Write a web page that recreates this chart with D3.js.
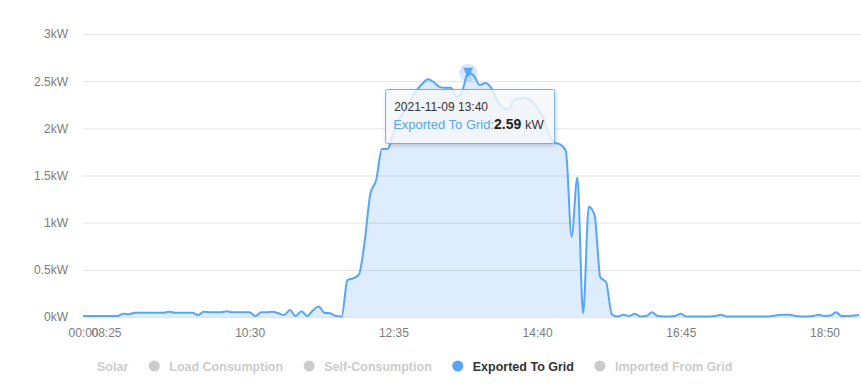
<!DOCTYPE html>
<html>
<head>
<meta charset="utf-8">
<script src="https://cdn.jsdelivr.net/npm/d3@7"></script>
<style>
	body { margin: 0; background: #fff; }
	svg { display: block; font-family: 'Liberation Sans', Arial, sans-serif; }
</style>
</head>
<body>
<svg id="chart" width="861" height="388"></svg>
<script>
// category axis: a midnight reading, then 5 minute steps through the day
const firstTime = '00:00'
const dayStart = '08:10'
const dayEnd = '19:20'
const xTickLabels = ['00:00', '08:25', '10:30', '12:35', '14:40', '16:45', '18:50']
const yTicks = [0, 0.5, 1, 1.5, 2, 2.5, 3]

// Exported To Grid, kW
const exported = [
	0.01, 0.01, 0.01, 0.01, 0.01, 0.01, 0.01, 0.035, 0.03, 0.045,
	0.045, 0.045, 0.045, 0.045, 0.045, 0.055, 0.045, 0.045, 0.045, 0.045,
	0.02, 0.055, 0.05, 0.05, 0.05, 0.06, 0.05, 0.05, 0.05, 0.05,
	0.01, 0.05, 0.05, 0.055, 0.04, 0.02, 0.075, 0.01, 0.06, 0.01,
	0.07, 0.11, 0.045, 0.04, 0.01, 0.005, 0.39, 0.41, 0.45, 0.8,
	1.31, 1.45, 1.78, 1.78, 1.95, 2.1, 2.2, 2.3, 2.4, 2.47,
	2.52, 2.49, 2.44, 2.43, 2.43, 2.33, 2.4, 2.59, 2.56, 2.46,
	2.48, 2.43, 2.3, 2.22, 2.2, 2.3, 2.32, 2.32, 2.29, 2.22,
	2.12, 1.95, 1.85, 1.83, 1.76, 0.85, 1.48, 0.04, 1.17, 1.08,
	0.42, 0.37, 0.03, 0.005, 0.025, 0.01, 0.035, 0.005, 0.01, 0.05,
	0.01, 0.005, 0.005, 0.01, 0.035, 0.005, 0.005, 0.005, 0.005, 0.005,
	0.01, 0.025, 0.005, 0.005, 0.005, 0.005, 0.005, 0.005, 0.005, 0.005,
	0.01, 0.02, 0.025, 0.025, 0.01, 0.005, 0.005, 0.01, 0.025, 0.01,
	0.015, 0.05, 0.01, 0.01, 0.015, 0.02
]

const legendItems = ['Solar', 'Load Consumption', 'Self-Consumption', 'Exported To Grid', 'Imported From Grid']
const activeSeries = 'Exported To Grid'
const tooltipDate = '2021-11-09'
const tooltipIndex = 67

const blue = '#58a6f5'
const plot = { left: 83, right: 859, top: 34, bottom: 317, gridRight: 861 }

const parseTime = d3.timeParse('%H:%M')
const formatTime = d3.timeFormat('%H:%M')
const times = [firstTime].concat(
	d3.timeMinute.every(5).range(parseTime(dayStart), d3.timeMinute.offset(parseTime(dayEnd), 1)).map(formatTime)
)
const data = times.map((t, i) => ({ time: t, value: exported[i] }))

const svg = d3.select('#chart')

const x = d3.scalePoint().domain(times).range([plot.left, plot.right])
const y = d3.scaleLinear().domain([0, 3]).range([plot.bottom, plot.top])

// grid
svg.append('g').selectAll('line').data(yTicks)
	.enter().append('line')
	.attr('x1', plot.left).attr('x2', plot.gridRight)
	.attr('y1', d => y(d) + 0.5).attr('y2', d => y(d) + 0.5)
	.style('stroke', '#e3e3e3').style('stroke-width', 1)

const yAxis = svg.append('g')
	.attr('transform', `translate(${plot.left}, 0)`)
	.call(d3.axisLeft(y).tickValues(yTicks).tickFormat(d => d + 'kW').tickSize(0).tickPadding(15))
yAxis.select('.domain').remove()
yAxis.selectAll('text').style('font-size', '12px').style('fill', '#7c7c7c').style('font-family', 'inherit')

const xAxis = svg.append('g')
	.attr('transform', `translate(0, ${plot.bottom})`)
	.call(d3.axisBottom(x).tickValues(xTickLabels).tickSize(0).tickPadding(11))
xAxis.select('.domain').remove()
xAxis.selectAll('text').style('font-size', '12px').style('fill', '#7c7c7c').style('font-family', 'inherit')

// series
const area = d3.area().curve(d3.curveMonotoneX)
	.x(d => x(d.time)).y0(y(0)).y1(d => y(d.value))
const line = d3.line().curve(d3.curveMonotoneX)
	.x(d => x(d.time)).y(d => y(d.value))

svg.append('path').datum(data)
	.attr('d', area)
	.style('fill', blue).style('fill-opacity', 0.2)

svg.append('path').datum(data)
	.attr('d', line)
	.style('fill', 'none').style('stroke', blue).style('stroke-width', 2).style('stroke-linejoin', 'round')

// hovered point marker
const hot = data[tooltipIndex]
const hx = x(hot.time)
const hy = y(hot.value)

svg.append('circle')
	.attr('cx', hx).attr('cy', hy).attr('r', 9)
	.style('fill', blue).style('fill-opacity', 0.25)
svg.append('path')
	.attr('d', `M${hx - 5},${hy - 5}L${hx + 5},${hy - 5}L${hx},${hy + 5}Z`)
	.style('fill', blue)

// tooltip
const defs = svg.append('defs')
const shadow = defs.append('filter').attr('id', 'shadow')
	.attr('x', '-10%').attr('y', '-20%').attr('width', '130%').attr('height', '150%')
shadow.append('feDropShadow').attr('dx', 1).attr('dy', 2).attr('stdDeviation', 2)
	.attr('flood-color', '#000').attr('flood-opacity', 0.2)

const tip = svg.append('g').attr('transform', `translate(${hx - 83}, 89)`)
tip.append('rect')
	.attr('x', 0.5).attr('y', 0.5).attr('width', 169).attr('height', 54).attr('rx', 2)
	.attr('filter', 'url(#shadow)')
	.style('fill', 'rgba(250,251,253,0.8)').style('stroke', '#6aaef5').style('stroke-width', 1)
tip.append('text')
	.attr('x', 9).attr('y', 22)
	.style('font-size', '12px').style('fill', '#333')
	.text(`${tooltipDate} ${hot.time}`)
const tipLine = tip.append('text').attr('x', 8).attr('y', 40).style('font-size', '13px')
tipLine.append('tspan').style('fill', blue).text(`${activeSeries}:`)
tipLine.append('tspan').style('fill', '#222').style('font-weight', 'bold').style('font-size', '14px').text(hot.value.toFixed(2))
tipLine.append('tspan').style('fill', '#333').text(' kW')

// legend
const legend = svg.append('g').attr('transform', 'translate(97, 366)')
let cursor = 0
legendItems.forEach((name, i) => {
	const on = name === activeSeries
	if (i > 0) {
		legend.append('circle')
			.attr('cx', cursor).attr('cy', 0).attr('r', 5.5)
			.style('fill', on ? blue : '#ccc')
		cursor += 15
	}
	const label = legend.append('text')
		.attr('x', cursor).attr('y', 4.5)
		.style('font-size', '12.5px').style('font-weight', 'bold')
		.style('fill', on ? '#333' : '#ccc')
		.text(name)
	cursor += label.node().getComputedTextLength() + 26
})
</script>
</body>
</html>
